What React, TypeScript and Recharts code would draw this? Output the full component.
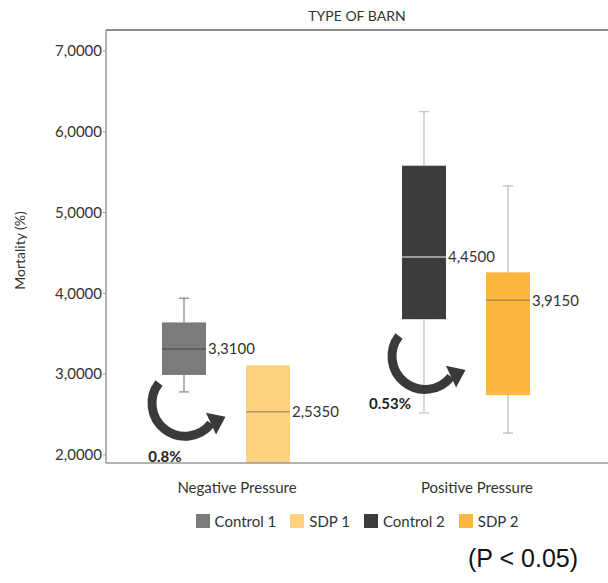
import React from 'react';
import { BarChart, Bar, XAxis, YAxis, Legend, Label, ReferenceLine } from 'recharts';

// ---- data ----
const categories = ['Negative Pressure', 'Positive Pressure'];
const controlNames = ['Control 1', 'Control 2'];
const sdpNames = ['SDP 1', 'SDP 2'];

const controlMin = [2.78, 2.52];
const controlQ1 = [2.99, 3.68];
const controlMedian = [3.31, 4.45];
const controlQ3 = [3.64, 5.58];
const controlMax = [3.94, 6.25];

const sdpMin = [1.87, 2.27];
const sdpQ1 = [1.87, 2.74];
const sdpMedian = [2.535, 3.915];
const sdpQ3 = [3.11, 4.26];
const sdpMax = [3.11, 5.33];

const changeLabels = ['0.8%', '0.53%'];
const arrowCenterValue = [2.64, 3.22];
const changeLabelValue = [1.98, 2.63];

const yTicks = [2, 3, 4, 5, 6, 7];
const yDomain = [1.9, 7.26];

// ---- styles ----
const FONT = 'Lato, "Noto Sans", sans-serif';
const TEXT = '#333333';
const AXIS = '#999999';
const FRAME_TOP = '#8c8c8c';
const controlColors = ['#7b7b7b', '#3d3c3a'];
const controlMedianColors = ['#565656', '#bdbdbd'];
const controlWhiskerColors = ['#8c8c8c', '#c4c4c4'];
const sdpColors = ['#ffd27f', '#fdb63e'];
const sdpMedianColors = ['#b39a6a', '#a88a55'];
const sdpWhiskerColors = ['#c0c0c0', '#bdbdbd'];
const ARROW = '#3a3a3a';
const changeLabelDx = [-20, -35];

const data = categories.map((c, i) => ({
  category: c,
  idx: i,
  control: [controlQ1[i], controlQ3[i]],
  sdp: [sdpQ1[i], sdpQ3[i]],
}));

const fmt = (v: number) => v.toFixed(4).replace('.', ',');

function arrow(cx: number, cy: number, r: number) {
  const a0 = (218 * Math.PI) / 180;
  const a1 = (38 * Math.PI) / 180;
  const sx = cx + r * Math.cos(a0);
  const sy = cy + r * Math.sin(a0);
  const ex = cx + r * Math.cos(a1);
  const ey = cy + r * Math.sin(a1);
  const path = `M ${sx} ${sy} A ${r} ${r} 0 1 0 ${ex} ${ey}`;
  const dir = (-25 * Math.PI) / 180;
  const dx = Math.cos(dir);
  const dy = Math.sin(dir);
  const nx = -dy;
  const ny = dx;
  const tip = [ex + dx * 16, ey + dy * 16];
  const b1 = [ex + nx * 12, ey + ny * 12];
  const b2 = [ex - nx * 12, ey - ny * 12];
  return (
    <g>
      <path d={path} fill="none" stroke={ARROW} strokeWidth={9} />
      <polygon points={`${tip[0]},${tip[1]} ${b1[0]},${b1[1]} ${b2[0]},${b2[1]}`} fill={ARROW} />
    </g>
  );
}

function makeBoxShape(kind: 'control' | 'sdp') {
  return (props: any) => {
    const { x, y, width, height, payload } = props;
    const i = payload && payload.idx != null ? payload.idx : props.index;
    const q1 = kind === 'control' ? controlQ1[i] : sdpQ1[i];
    const q3 = kind === 'control' ? controlQ3[i] : sdpQ3[i];
    const med = kind === 'control' ? controlMedian[i] : sdpMedian[i];
    const mn = kind === 'control' ? controlMin[i] : sdpMin[i];
    const mx = kind === 'control' ? controlMax[i] : sdpMax[i];
    const fill = kind === 'control' ? controlColors[i] : sdpColors[i];
    const medColor = kind === 'control' ? controlMedianColors[i] : sdpMedianColors[i];
    const whColor = kind === 'control' ? controlWhiskerColors[i] : sdpWhiskerColors[i];
    const top = Math.min(y, y + height);
    const h = Math.abs(height);
    const k = h / (q3 - q1);
    const py = (v: number) => top + (q3 - v) * k;
    const cx = x + width / 2;
    const cap = 5;
    return (
      <g>
        {mx > q3 && (
          <g stroke={whColor} strokeWidth={1.3}>
            <line x1={cx} x2={cx} y1={py(mx)} y2={py(q3)} />
            <line x1={cx - cap} x2={cx + cap} y1={py(mx)} y2={py(mx)} />
          </g>
        )}
        {mn < q1 && (
          <g stroke={whColor} strokeWidth={1.3}>
            <line x1={cx} x2={cx} y1={py(q1)} y2={py(mn)} />
            <line x1={cx - cap} x2={cx + cap} y1={py(mn)} y2={py(mn)} />
          </g>
        )}
        <rect x={x} y={top} width={width} height={h} fill={fill} />
        <line x1={x} x2={x + width} y1={py(med)} y2={py(med)} stroke={medColor} strokeWidth={1.5} />
        <text
          x={x + width + 2}
          y={py(med)}
          dy="0.36em"
          fontFamily={FONT}
          fontSize={15}
          fill={TEXT}
        >
          {fmt(med)}
        </text>
        {kind === 'control' && (
          <g>
            {arrow(cx + 1, py(arrowCenterValue[i]), 33)}
            <text
              x={cx + 1 + changeLabelDx[i]}
              y={py(changeLabelValue[i])}
              dy="0.36em"
              textAnchor="middle"
              fontFamily={FONT}
              fontWeight={700}
              fontSize={15}
              fill="#222"
            >
              {changeLabels[i]}
            </text>
          </g>
        )}
      </g>
    );
  };
}

const CategoryTick = (props: any) => {
  const { x, y, payload } = props;
  return (
    <text x={x + 11} y={y + 30} textAnchor="middle" fontFamily={FONT} fontSize={15} fill={TEXT}>
      {payload.value}
    </text>
  );
};

const legendItems = [
  { name: controlNames[0], color: controlColors[0] },
  { name: sdpNames[0], color: sdpColors[0] },
  { name: controlNames[1], color: controlColors[1] },
  { name: sdpNames[1], color: sdpColors[1] },
];

const LegendContent = () => (
  <div
    style={{
      display: 'flex',
      justifyContent: 'center',
      alignItems: 'center',
      height: 24,
      fontFamily: FONT,
      fontSize: 15,
      color: TEXT,
    }}
  >
    {legendItems.map((it) => (
      <div key={it.name} style={{ display: 'flex', alignItems: 'center', margin: '0 7px' }}>
        <span style={{ display: 'inline-block', width: 14, height: 14, background: it.color, marginRight: 5 }} />
        <span>{it.name}</span>
      </div>
    ))}
  </div>
);

export default function App() {
  return (
    <div style={{ position: 'absolute', left: 0, top: 0, width: 608, height: 583, background: '#fff', overflow: 'hidden' }}>
      <div
        style={{
          position: 'absolute',
          left: 106,
          width: 502,
          top: 6,
          textAlign: 'center',
          fontFamily: FONT,
          fontSize: 14,
          lineHeight: '20px',
          color: TEXT,
        }}
      >
        TYPE OF BARN
      </div>
      <BarChart
        width={608}
        height={583}
        data={data}
        margin={{ top: 30, right: 0, left: 0, bottom: 50 }}
        barGap={40}
        barSize={44}
        style={{ position: 'absolute', left: 0, top: 0 }}
      >
        <XAxis
          dataKey="category"
          height={46}
          padding={{ left: 0, right: 22 }}
          tickLine={false}
          tickSize={0}
          tickMargin={0}
          axisLine={{ stroke: AXIS, strokeWidth: 1.5 }}
          tick={<CategoryTick />}
          interval={0}
        />
        <YAxis
          width={106}
          domain={yDomain}
          allowDataOverflow
          ticks={yTicks}
          tickFormatter={fmt}
          tickSize={3}
          tickMargin={1}
          tickLine={{ stroke: AXIS }}
          axisLine={{ stroke: AXIS, strokeWidth: 1.5 }}
          tick={{ fontFamily: FONT, fontSize: 15, fill: TEXT }}
        >
          <Label
            content={(p: any) => {
              const vb = p.viewBox || {};
              const cx = vb.x + 20;
              const cy = vb.y + vb.height / 2 + 4;
              return (
                <text
                  x={cx}
                  y={cy}
                  transform={`rotate(-90 ${cx} ${cy})`}
                  textAnchor="middle"
                  dy="0.36em"
                  fontFamily={FONT}
                  fontSize={14}
                  fill={TEXT}
                >
                  Mortality (%)
                </text>
              );
            }}
          />
        </YAxis>
        <ReferenceLine y={yDomain[1]} stroke={FRAME_TOP} strokeWidth={2} ifOverflow="extendDomain" />
        <Legend
          verticalAlign="bottom"
          height={24}
          wrapperStyle={{ left: 106, width: 502 }}
          content={<LegendContent />}
        />
        <Bar dataKey="control" name="Control" isAnimationActive={false} shape={makeBoxShape('control')} />
        <Bar dataKey="sdp" name="SDP" isAnimationActive={false} shape={makeBoxShape('sdp')} />
      </BarChart>
      <div
        style={{
          position: 'absolute',
          left: 468,
          top: 543,
          fontFamily: '"Liberation Sans", Arial, sans-serif',
          fontSize: 25,
          lineHeight: '30px',
          color: '#111',
          whiteSpace: 'nowrap',
        }}
      >
        (P &lt; 0.05)
      </div>
    </div>
  );
}
